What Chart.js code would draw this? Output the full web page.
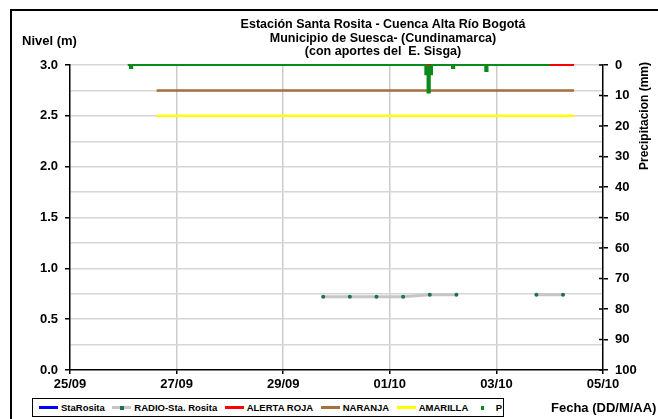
<!DOCTYPE html>
<html>
<head>
<meta charset="utf-8">
<script src="https://cdn.jsdelivr.net/npm/chart.js@4.4.0/dist/chart.umd.min.js"></script>
<style>
html, body { margin: 0; padding: 0; background: #fff; overflow: hidden; }
#wrap { position: relative; width: 658px; height: 419px; overflow: hidden; }
#frame { position: absolute; left: 10px; top: 9px; width: 720px; height: 520px; border: 2px solid #000; }
canvas { position: absolute; left: 0; top: 0; }
#legend {
  position: absolute; left: 32px; top: 398px; width: 472px; height: 19px;
  border: 1px solid #000; background: #fff; box-sizing: border-box;
  display: flex; align-items: center; padding-left: 6px;
  font: bold 9.5px "Liberation Sans", Arial, sans-serif; color: #000; white-space: nowrap;
}
#legend .item { display: flex; align-items: center; margin-right: 7.5px; }
#legend .sw { position: relative; display: inline-block; width: 19px; height: 10px; margin-right: 3px; }
#legend .ln { position: absolute; left: 0; right: 0; top: 3.5px; height: 3px; }
#legend .dot { position: absolute; left: 8px; top: 3.5px; width: 3.5px; height: 3.5px; }
#legend .item.pt .sw { width: 16px; margin-right: 4px; }
#legend .item.pt .dot { left: 5px; }
</style>
</head>
<body>
<div id="wrap">
  <div id="frame"></div>
  <canvas id="myChart" width="658" height="419"></canvas>
  <div id="legend"></div>
</div>
<script>
//time axis is in hours counted from 25/09 00:00
const xTickLabels = ['25/09', '27/09', '29/09', '01/10', '03/10', '05/10'];

//RADIO-Sta. Rosita readings (m), null = no reading
const radioHours = [114, 126, 138, 150, 162, 174, 192, 210, 222];
const radioNivel = [0.72, 0.72, 0.72, 0.72, 0.74, 0.74, null, 0.74, 0.74];

//alert levels (m)
const alertHours = [39, 227];
const alertaRoja = [3.0, 3.0];
const naranja = [2.75, 2.75];
const amarilla = [2.5, 2.5];

//precipitation P (mm)
const pHours = [26, 27, 28, 159, 160, 161, 162, 163, 171, 172, 173, 186, 187, 188, 216];
const pValues = [0, 1, 0, 0, 3, 9, 3, 0, 0, 1, 0, 0, 2, 0, 0];

//StaRosita has no readings in this period
const staRosita = [];

const titleLines = [
  'Estación Santa Rosita - Cuenca Alta Río Bogotá',
  'Municipio de Suesca- (Cundinamarca)',
  '(con aportes del  E. Sisga)'
];
const FONT = '"Liberation Sans", Arial, sans-serif';

function pts(xs, ys) {
  return xs.map((x, i) => ({x: x, y: ys[i]}));
}

const chart_data = {
  datasets: [{
    label: 'StaRosita',
    data: staRosita,
    borderColor: '#0000ff',
    borderWidth: 2,
    pointRadius: 0,
    yAxisID: 'y',
    order: 6
  }, {
    label: 'RADIO-Sta. Rosita',
    data: pts(radioHours, radioNivel),
    borderColor: '#c6c6c6',
    borderWidth: 3,
    pointRadius: 2,
    pointBorderWidth: 0,
    pointBackgroundColor: '#1f6e5c',
    spanGaps: false,
    yAxisID: 'y',
    order: 1
  }, {
    label: 'ALERTA ROJA',
    data: pts(alertHours, alertaRoja),
    borderColor: '#ff0000',
    borderWidth: 2,
    pointRadius: 0,
    clip: 3,
    yAxisID: 'y',
    order: 5
  }, {
    label: 'NARANJA',
    data: pts(alertHours, naranja),
    borderColor: '#a5703e',
    borderWidth: 2.5,
    pointRadius: 0,
    yAxisID: 'y',
    order: 4
  }, {
    label: 'AMARILLA',
    data: pts(alertHours, amarilla),
    borderColor: '#ffff00',
    borderWidth: 2.5,
    pointRadius: 0,
    yAxisID: 'y',
    order: 3
  }, {
    label: 'P',
    data: pts(pHours, pValues),
    borderColor: '#0a8a1a',
    backgroundColor: '#0a8a1a',
    fill: 'origin',
    borderWidth: 2,
    pointRadius: 0,
    stepped: true,
    clip: 3,
    yAxisID: 'y2',
    order: 0
  }]
};

//titles, axis names and inner ticks of the right axis
const extras = {
  id: 'extras',
  afterDraw(chart) {
    const c = chart.ctx;
    c.save();
    c.fillStyle = '#000';
    c.strokeStyle = '#000';
    c.lineWidth = 1.5;
    const y2 = chart.scales.y2;
    y2.ticks.forEach(t => {
      const yy = y2.getPixelForValue(t.value);
      c.beginPath();
      c.moveTo(y2.left - 4, yy);
      c.lineTo(y2.left, yy);
      c.stroke();
    });
    c.font = 'bold 12.5px ' + FONT;
    c.textBaseline = 'middle';
    c.textAlign = 'center';
    titleLines.forEach((t, i) => c.fillText(t, 383, 25 + i * 13.5));
    c.font = 'bold 13px ' + FONT;
    c.textAlign = 'left';
    c.fillText('Nivel (m)', 22, 41);
    c.fillText('Fecha (DD/M/AA)', 551, 408);
    c.translate(645, 116);
    c.rotate(-Math.PI / 2);
    c.textAlign = 'center';
    c.font = 'bold 12px ' + FONT;
    c.fillText('Precipitacion (mm)', 0, 0);
    c.restore();
  }
};

const tickFont = {family: FONT, size: 13, weight: 'bold'};
const isHalf = v => Math.round(v * 100) % 50 === 0;

const ctx = document.getElementById('myChart').getContext('2d');
const myChart = new Chart(ctx, {
  type: 'line',
  data: chart_data,
  plugins: [extras],
  options: {
    responsive: false,
    animation: false,
    layout: {padding: {left: 0, right: 0, top: 65, bottom: 19}},
    plugins: {
      legend: {display: false},
      title: {display: false},
      tooltip: {enabled: false}
    },
    scales: {
      x: {
        type: 'linear',
        min: 0,
        max: 240,
        ticks: {
          stepSize: 48,
          autoSkip: false,
          maxRotation: 0,
          padding: 3,
          color: '#000',
          font: tickFont,
          callback: v => xTickLabels[Math.round(v / 48)]
        },
        grid: {
          color: c => (c.index > 0 && c.index < xTickLabels.length - 1) ? '#cccccc' : 'rgba(0,0,0,0)',
          lineWidth: 1.5,
          tickLength: 4,
          tickColor: '#000'
        },
        border: {color: '#000', width: 1.5},
        afterFit: s => { s.height = 30; }
      },
      y: {
        position: 'left',
        min: 0,
        max: 3,
        ticks: {
          stepSize: 0.25,
          autoSkip: false,
          padding: 7,
          color: '#000',
          font: tickFont,
          callback: v => isHalf(v) ? v.toFixed(1) : ''
        },
        grid: {
          color: c => c.tick.value === 0 ? 'rgba(0,0,0,0)' : '#d6d6d6',
          lineWidth: 1.5,
          tickLength: 5,
          tickColor: c => isHalf(c.tick.value) ? '#000' : 'rgba(0,0,0,0)'
        },
        border: {color: '#000', width: 1.5},
        afterFit: s => { s.width = 70; }
      },
      y2: {
        position: 'right',
        min: 0,
        max: 100,
        reverse: true,
        ticks: {
          stepSize: 10,
          padding: 7,
          color: '#000',
          font: tickFont
        },
        grid: {drawOnChartArea: false, tickLength: 5, tickColor: '#000', lineWidth: 1.5},
        border: {color: '#000', width: 1.5},
        afterFit: s => { s.width = 55; }
      }
    }
  }
});

//html legend built from the datasets
const legendEl = document.getElementById('legend');
myChart.data.datasets.forEach(ds => {
  const item = document.createElement('span');
  item.className = 'item';
  const sw = document.createElement('span');
  sw.className = 'sw';
  if (ds.label === 'P') {
    item.className = 'item pt';
  } else {
    const ln = document.createElement('span');
    ln.className = 'ln';
    ln.style.background = ds.borderColor;
    sw.appendChild(ln);
  }
  if (ds.pointRadius > 0 || ds.label === 'P') {
    const dot = document.createElement('span');
    dot.className = 'dot';
    dot.style.background = ds.label === 'P' ? ds.borderColor : ds.pointBackgroundColor;
    sw.appendChild(dot);
  }
  const txt = document.createElement('span');
  txt.textContent = ds.label;
  item.appendChild(sw);
  item.appendChild(txt);
  legendEl.appendChild(item);
});
</script>
</body>
</html>
